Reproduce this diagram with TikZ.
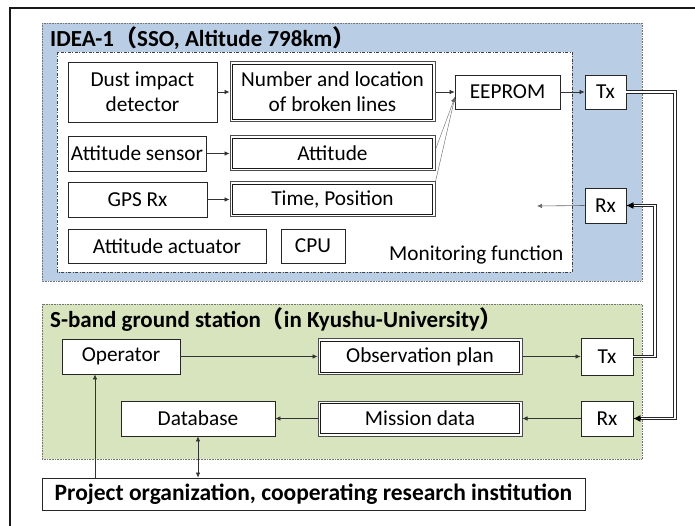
\documentclass[tikz,border=0pt]{standalone}
\usepackage{fontspec}
\setmainfont{Carlito}
\newfontfamily\cjk{Noto Sans CJK JP}
\usetikzlibrary{arrows.meta,calc}
\begin{document}
\begin{tikzpicture}[x=1pt,y=-1pt,
  every node/.style={font=\fontsize{21.3}{25}\selectfont},
  box/.style={draw=black!85, fill=white, line width=0.8pt, inner sep=0pt, align=center},
  dbox/.style={box, line width=1pt, draw=black!70, path picture={\draw[black!90, line width=0.7pt] ($(path picture bounding box.south west)+(2.6,-2.6)$) rectangle ($(path picture bounding box.north east)+(-2.6,2.6)$);}},
  arr/.style={draw=black!80, line width=0.6pt, -{Latex[length=5pt,width=4.5pt]}},
  darr/.style={draw=black!80, line width=0.6pt, {Latex[length=5pt,width=4.5pt]}-{Latex[length=5pt,width=4.5pt]}},
  dline/.style={draw=black!85, line width=1pt, double=white, double distance=1.5pt},
  ttl/.style={font=\fontsize{23}{26}\selectfont\bfseries, anchor=base west, inner sep=0pt}
]
\useasboundingbox (0,0) rectangle (695,526);
\begin{scope}
\clip (0,0) rectangle (695,526);
\draw[line width=1.6pt, black!90] (10,540) -- (10,8) -- (710,8);
\end{scope}
% regions
\draw[fill={rgb,255:red,185;green,205;blue,229}, draw=black!55, densely dotted, line width=0.6pt] (42,23) rectangle (642,281);
\draw[fill={rgb,255:red,215;green,228;blue,189}, draw=black!55, densely dotted, line width=0.6pt] (42,304) rectangle (642,459);
\draw[fill=white, draw=black!75, dash pattern=on 3pt off 1.5pt on 1pt off 1.5pt, line width=0.6pt] (57,52) rectangle (572,272);

\node[ttl] (t1) at (50,47) {IDEA-1{\cjk （}SSO, Altitude 798km{\cjk ）}};
\node[ttl] (t2) at (50,327) {S-band ground station{\cjk （}in Kyushu-University{\cjk ）}};
\node[anchor=base west, inner sep=0pt] (monit) at (389,261) {Monitoring function};

% satellite nodes
\node[box, minimum width=149, minimum height=60] (dust) at (142.5,92) {Dust impact\\detector};
\node[dbox, minimum width=205, minimum height=60] (num) at (332.5,92) {Number and location\\of broken lines};
\node[box, minimum width=138, minimum height=35] (asens) at (137,153.5) {Attitude sensor};
\node[dbox, minimum width=205, minimum height=35] (att) at (332.5,153.5) {Attitude};
\node[box, minimum width=139, minimum height=35] (gps) at (137.5,199.5) {GPS Rx};
\node[dbox, minimum width=205, minimum height=35] (tpos) at (332.5,199.5) {Time, Position};
\node[box, minimum width=198, minimum height=34] (act) at (167,246) {Attitude actuator};
\node[box, minimum width=64, minimum height=34] (cpu) at (313,246) {CPU};
\node[box, minimum width=105, minimum height=34] (eeprom) at (507.5,92) {EEPROM};
\node[box, minimum width=41, minimum height=34] (tx1) at (605.5,92) {Tx};
\node[box, minimum width=41, minimum height=35] (rx1) at (605.5,205.5) {Rx};
\coordinate (rxend) at (537,206);
\coordinate (ein) at (455,97);

% ground nodes
\node[box, minimum width=118, minimum height=35] (oper) at (121,356.5) {Operator};
\node[dbox, minimum width=204, minimum height=36] (obs) at (420,356.5) {Observation plan};
\node[box, minimum width=52, minimum height=37] (tx2) at (607,356.5) {Tx};
\node[box, minimum width=154, minimum height=35] (db) at (198,418.5) {Database};
\node[dbox, minimum width=204, minimum height=35] (mis) at (420,418.5) {Mission data};
\node[box, minimum width=52, minimum height=35] (rx2) at (607,418.5) {Rx};
\node[box, minimum width=543, minimum height=32, font=\fontsize{23.5}{26}\selectfont\bfseries] (proj) at (313.5,494) {Project organization, cooperating research institution};

% connectors satellite
\draw[arr] (dust.east) -- (num.west);
\draw[arr] (asens.east) -- (att.west);
\draw[arr] (gps.east) -- (tpos.west);
\draw[arr] (num.east) -- (eeprom.west);
\draw[arr, draw=black!60, line width=0.4pt] ($(att.east)+(0,-4)$) -- (ein);
\draw[arr, draw=black!60, line width=0.4pt] (tpos.north east) -- (ein);
\draw[arr] (eeprom.east) -- (tx1.west);
\draw[arr, draw=black!60] (rx1.west) -- (rxend);

% links
\draw[dline] (tx1.east) -- (675,92) -- (675,418.5) -- ($(rx2.east)+(7,0)$);
\draw[-{Latex[length=7pt,width=7pt]}, line width=0.8pt] ($(rx2.east)+(8,0)$) -- (rx2.east);
\draw[dline] (tx2.east) -- (655,356.5) -- (655,205.5) -- ($(rx1.east)+(7,0)$);
\draw[-{Latex[length=7pt,width=7pt]}, line width=0.8pt] ($(rx1.east)+(8,0)$) -- (rx1.east);

% connectors ground
\draw[arr] (oper.east) -- (obs.west);
\draw[arr] (obs.east) -- (tx2.west);
\draw[arr] (rx2.west) -- (mis.east);
\draw[arr] (mis.west) -- (db.east);
\draw[arr] (proj.north -| 95,0) -- (oper.south -| 95,0);
\draw[darr] (proj.north -| db.south) -- (db.south);
\end{tikzpicture}
\end{document}
